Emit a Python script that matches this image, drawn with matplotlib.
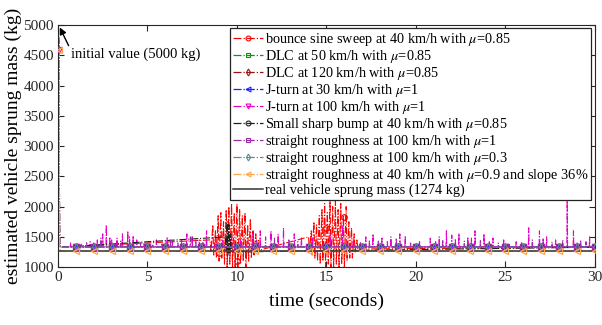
import matplotlib
matplotlib.use("Agg")
import matplotlib.pyplot as plt
from matplotlib.lines import Line2D

plt.rcParams['font.family'] = ['Liberation Serif', 'DejaVu Serif']
plt.rcParams['mathtext.fontset'] = 'stix'

# ---------------- data ----------------
initial_value = 5000
first_sample = 4590
real_mass = 1274
marker_times = [1, 2, 3, 4, 5, 6, 7, 8, 9, 10, 11, 12, 13, 14, 15, 16, 17, 18, 19, 20,
                21, 22, 23, 24, 25, 26, 27, 28, 29, 30]

labels = [
    "bounce sine sweep at 40 km/h with $\\mu$=0.85",
    "DLC at 50 km/h with $\\mu$=0.85",
    "DLC at 120 km/h with $\\mu$=0.85",
    "J-turn at 30 km/h with $\\mu$=1",
    "J-turn at 100 km/h with $\\mu$=1",
    "Small sharp bump at 40 km/h with $\\mu$=0.85",
    "straight roughness at 100 km/h with $\\mu$=1",
    "straight roughness at 100 km/h with $\\mu$=0.3",
    "straight roughness at 40 km/h with $\\mu$=0.9 and slope 36%",
]
colors = ['#ff0000', '#1a8a1a', '#a01010', '#1f1fff', '#e600c8', '#202020',
          '#9a2aa8', '#5f8c8c', '#ffa64d']
markers = ['o', 's', 'd', '<', 'v', 'o', 's', 'd', '<']
base_levels = [1330, 1330, 1330, 1335, 1335, 1330, 1335, 1330, 1265]

# red bounce sine sweep bursts: time, high, low
red_t1 = [8.5, 8.65, 8.8, 8.95, 9.1, 9.25, 9.4, 9.55, 9.7, 9.85, 10.0, 10.15, 10.3, 10.45,
          10.6, 10.75, 10.9, 11.05, 11.2]
red_hi1 = [1450, 1700, 1600, 1850, 1900, 1750, 1950, 2000, 2050, 1900, 2050, 1950, 1850, 1900,
           1700, 1800, 1600, 1550, 1450]
red_lo1 = [1250, 1200, 1150, 1100, 1150, 1050, 1000, 1050, 1000, 1000, 1000, 1050, 1100, 1000,
           1100, 1150, 1200, 1250, 1280]
red_t2 = [14.0, 14.15, 14.3, 14.45, 14.6, 14.75, 14.9, 15.05, 15.2, 15.35, 15.5, 15.65, 15.8,
          15.95, 16.1, 16.25, 16.4, 16.55, 16.7]
red_hi2 = [1500, 1600, 1750, 1700, 1850, 1950, 2050, 1900, 2100, 2000, 2100, 1950, 2050, 1850,
           2000, 1750, 1650, 1550, 1450]
red_lo2 = [1250, 1200, 1150, 1100, 1050, 1100, 1000, 1050, 1000, 1000, 1050, 1000, 1050, 1000,
           1100, 1150, 1150, 1250, 1300]
red_marker_vals = {9: 1236, 10: 1100, 15: 1650, 16: 1830}

# magenta J-turn 100 km/h spikes: time, peak
mag_t = [0.7, 1.3, 1.8, 2.2, 2.5, 2.7, 2.9, 3.3, 3.6, 3.9, 4.2, 4.4, 4.8, 5.1, 5.5, 6.1, 6.4,
         6.9, 7.2, 7.5, 7.9, 8.3, 8.8, 9.2, 9.7, 10.2, 10.9, 11.3, 11.9, 12.3, 12.6, 13.2, 13.6,
         14.2, 15.2, 15.9, 16.5, 17.2, 17.6, 18.1, 18.6, 19.1, 19.4, 20.2, 20.8, 21.3, 21.7,
         22.0, 22.4, 22.9, 23.3, 23.8, 24.3, 24.9, 25.6, 26.3, 26.9, 27.3, 27.8, 28.45, 28.8,
         29.2, 29.7]
mag_v = [1400, 1380, 1420, 1450, 1550, 1700, 1500, 1480, 1550, 1600, 1520, 1450, 1400, 1400,
         1450, 1500, 1420, 1450, 1550, 1520, 1450, 1600, 1500, 1450, 1500, 1450, 1550, 1600,
         1600, 1550, 1650, 1550, 1500, 1480, 1550, 1700, 1450, 1500, 1550, 1480, 1500, 1550,
         1520, 1420, 1480, 1500, 1600, 1530, 1560, 1500, 1600, 1550, 1480, 1450, 1420, 1650,
         1600, 1500, 1450, 2100, 1600, 1450, 1500]

# purple straight roughness 100 km/h mu=1 spikes
pur_t = [1.1, 1.6, 2.0, 2.4, 3.0, 3.5, 4.0, 4.6, 5.3, 5.8, 6.3, 6.7, 7.4, 7.7, 8.1, 11.1,
         11.6, 12.1, 12.9, 13.4, 16.9, 17.4, 17.9, 18.4, 18.9, 19.7, 21.1, 21.5, 22.2, 22.7,
         23.1, 23.6, 24.1, 24.6, 25.2, 25.9, 26.5, 27.1, 27.6, 28.2, 29.0, 29.5]
pur_v = [1380, 1420, 1400, 1480, 1450, 1430, 1500, 1420, 1380, 1400, 1450, 1400, 1500, 1450,
         1420, 1450, 1500, 1480, 1450, 1420, 1420, 1450, 1430, 1420, 1480, 1400, 1420, 1450,
         1470, 1430, 1480, 1450, 1420, 1400, 1380, 1420, 1450, 1480, 1420, 1450, 1400, 1420]

# black small sharp bump spike: time, high, low
blk_t = [9.35, 9.45, 9.55, 9.65]
blk_hi = [1500, 1750, 1700, 1550]
blk_lo = [1250, 1200, 1220, 1250]

t_end = 30
t_first = 0.06


def start():
    return [0.0, t_first, 0.09, 0.13], [initial_value, first_sample, 1400, None]


def zigzag(ts, hi, lo, base):
    t, v = start()
    v[-1] = base
    for ti, h, l in zip(ts, hi, lo):
        t += [ti, ti + 0.05]
        v += [h, l]
    t.append(t_end)
    v.append(base)
    return t, v


def spikes(ts, peaks, base):
    t, v = start()
    v[-1] = base
    for ti, p in zip(ts, peaks):
        t += [ti - 0.02, ti, ti + 0.02]
        v += [base, p, base]
    t.append(t_end)
    v.append(base)
    return t, v


def flat(base):
    t, v = start()
    v[-1] = base
    return t + [t_end], v + [base]


series = []
rt, rv = zigzag(red_t1 + red_t2, red_hi1 + red_hi2, red_lo1 + red_lo2, base_levels[0])
series.append((rt, rv))
series.append(flat(base_levels[1]))
series.append(flat(base_levels[2]))
series.append(flat(base_levels[3]))
series.append(spikes(mag_t, mag_v, base_levels[4]))
series.append(zigzag(blk_t, blk_hi, blk_lo, base_levels[5]))
series.append(spikes(pur_t, pur_v, base_levels[6]))
series.append(flat(base_levels[7]))
series.append(flat(base_levels[8]))

# ---------------- plot ----------------
fig = plt.figure(figsize=(6.02, 3.25), dpi=100)
ax = fig.add_axes([0.0963, 0.178, 0.8920, 0.745])

handles = []
for i, (t, v) in enumerate(series):
    ax.plot(t, v, color=colors[i], ls='-.', lw=0.8, zorder=2)
for i in range(len(series)):
    mv = [red_marker_vals.get(m, base_levels[i]) if i == 0 else base_levels[i]
          for m in marker_times]
    ax.plot(marker_times, mv, ls='none', marker=markers[i], ms=4, mfc='none',
            mec=colors[i], mew=0.9, zorder=4)
    handles.append(Line2D([], [], color=colors[i], ls='-.', lw=0.9, marker=markers[i],
                          ms=3.5, mfc='none', mec=colors[i], mew=0.8, label=labels[i]))
for i in (4, 8):
    ax.plot([t_first], [first_sample], ls='none', marker=markers[i], ms=4, mfc='none',
            mec=colors[i], mew=0.9, zorder=5)

ax.axhline(real_mass, color='#333333', lw=1.1, zorder=3)
handles.append(Line2D([], [], color='#333333', lw=1.1,
                      label='real vehicle sprung mass (1274 kg)'))

ax.set_xlim(0, 30)
ax.set_ylim(1000, 5000)
ax.set_xticks([0, 5, 10, 15, 20, 25, 30])
ax.set_yticks([1000, 1500, 2000, 2500, 3000, 3500, 4000, 4500, 5000])
ax.tick_params(direction='in', top=True, right=True, labelsize=11, length=4,
               colors='#262626', pad=3)
for s in ax.spines.values():
    s.set_color('#262626')
    s.set_linewidth(0.8)
ax.set_xlabel('time (seconds)', fontsize=14, labelpad=6)
ax.set_ylabel('estimated vehicle sprung mass (kg)', fontsize=14, labelpad=1)

ax.annotate('initial value (5000 kg)', xy=(0.1, 4960), xytext=(0.75, 4520),
            fontsize=10.5, va='center', ha='left',
            arrowprops=dict(arrowstyle='-|>', color='black', lw=1, mutation_scale=10,
                            shrinkA=0, shrinkB=0, relpos=(-0.01, 0.9)))

leg = ax.legend(handles=handles, loc='upper right', bbox_to_anchor=(0.993, 0.988),
                borderaxespad=0, fontsize=10.3, handlelength=2.1, handletextpad=0.15,
                labelspacing=0.0, borderpad=0.2, frameon=True, fancybox=False,
                framealpha=1)
leg.get_frame().set_edgecolor('#222222')
leg.get_frame().set_linewidth(0.9)

fig.savefig('out.png', dpi=100)
